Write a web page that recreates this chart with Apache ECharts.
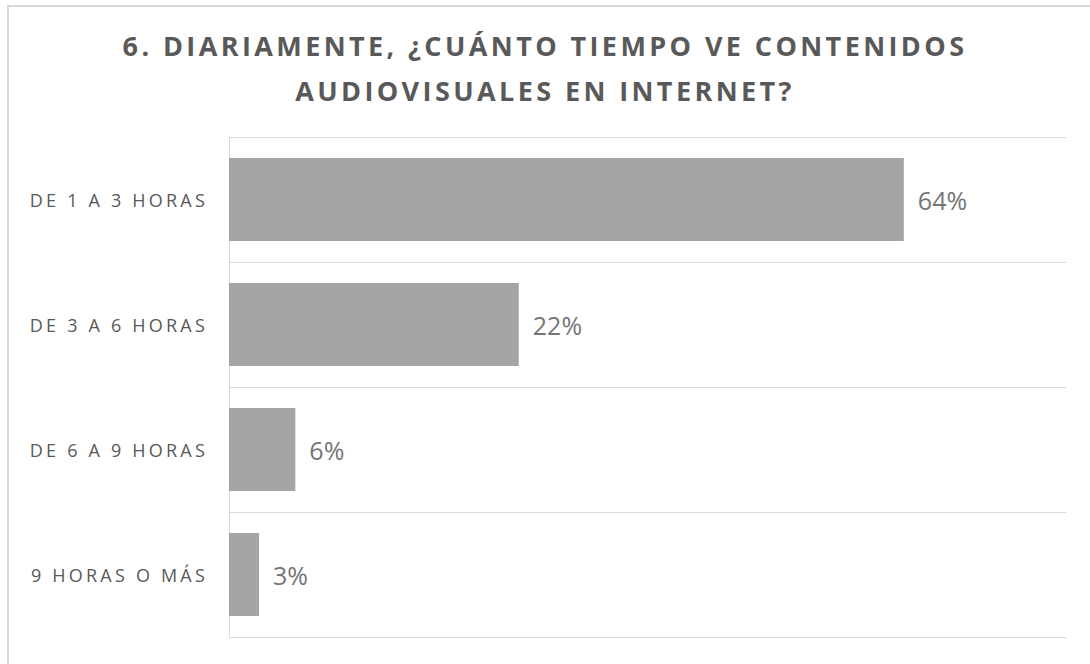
<!DOCTYPE html>
<html>
<head>
<meta charset="utf-8">
<script src="https://cdn.jsdelivr.net/npm/echarts@6/dist/echarts.min.js"></script>
<style>
  html, body { margin: 0; padding: 0; background: #ffffff; }
  #chart { width: 1090px; height: 664px; }
</style>
</head>
<body>
<div id="chart"></div>
<script>
// ---- data ----
const titleLines = ['6. DIARIAMENTE, ¿CUÁNTO TIEMPO VE CONTENIDOS', 'AUDIOVISUALES EN INTERNET?'];
const categories = ['DE 1 A 3 HORAS', 'DE 3 A 6 HORAS', 'DE 6 A 9 HORAS', '9 HORAS O MÁS'];
// bar lengths as drawn in the picture
const values = [0.645, 0.277, 0.0634, 0.0287];
// printed data labels
const labelTexts = ['64%', '22%', '6%', '3%'];

const chart = echarts.init(document.getElementById('chart'), null, { renderer: 'svg' });

const option = {
  animation: false,
  backgroundColor: '#ffffff',
  title: {
    text: titleLines.join('\n'),
    left: 'center',
    top: 18,
    padding: [5, 0, 5, 8],
    textStyle: {
      fontFamily: 'Open Sans',
      fontWeight: 'bold',
      fontSize: 27,
      lineHeight: 45,
      color: '#595959'
    }
  },
  graphic: [{
    type: 'rect',
    silent: true,
    shape: { x: 8, y: 6, width: 1200, height: 800 },
    style: { fill: 'none', stroke: '#d9d9d9', lineWidth: 2 }
  }],
  grid: { left: 229, right: 24, top: 137, bottom: 27, containLabel: false },
  xAxis: {
    type: 'value',
    min: 0,
    max: 0.8,
    show: false,
    splitLine: { show: false }
  },
  yAxis: {
    type: 'category',
    data: categories,
    inverse: true,
    axisLine: { show: true, lineStyle: { color: '#d9d9d9', width: 1 } },
    axisTick: { show: false },
    splitLine: { show: true, lineStyle: { color: '#d9d9d9', width: 1 } },
    axisLabel: {
      margin: 21,
      fontFamily: 'Open Sans',
      fontSize: 18,
      color: '#595959'
    }
  },
  series: [{
    type: 'bar',
    data: values,
    barCategoryGap: '33.6%',
    itemStyle: { color: '#a5a5a5' },
    label: {
      show: true,
      position: 'right',
      distance: 14,
      fontFamily: 'Open Sans',
      fontSize: 25,
      color: '#757575',
      formatter: p => labelTexts[p.dataIndex]
    }
  }]
};

chart.setOption(option);

function applySpacing() {
  document.querySelectorAll('#chart text').forEach(t => {
    const s = t.textContent;
    if (titleLines.includes(s)) t.style.letterSpacing = '3.4px';
    else if (categories.includes(s)) t.style.letterSpacing = '3.2px';
  });
}
applySpacing();
chart.on('finished', applySpacing);
chart.on('rendered', applySpacing);
</script>
</body>
</html>
